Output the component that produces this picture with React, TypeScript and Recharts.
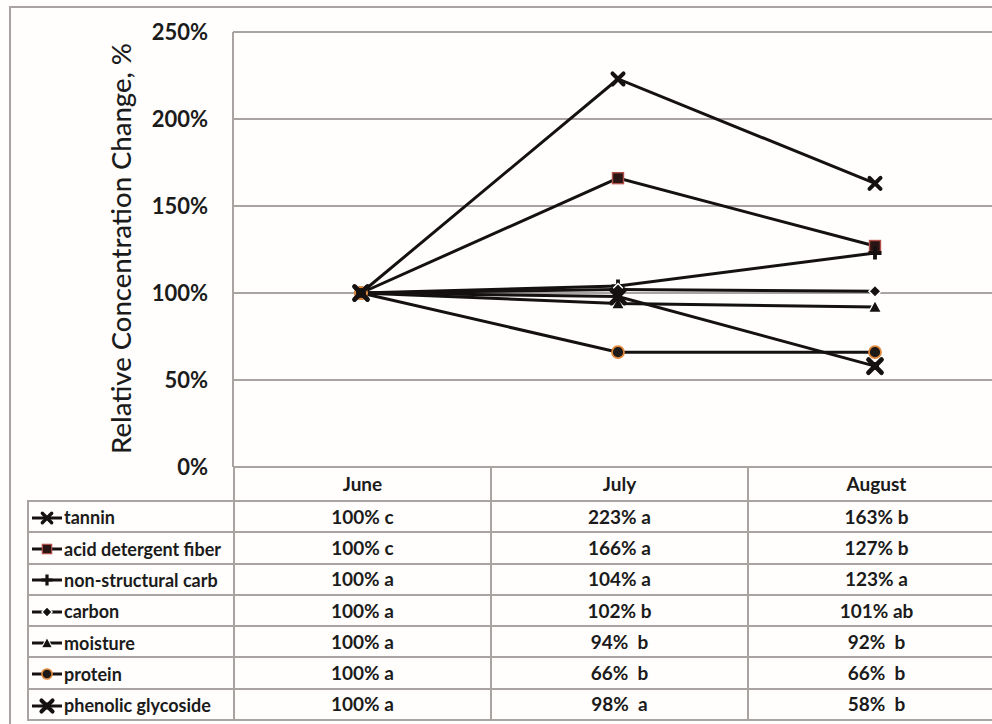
import React from 'react';
import { LineChart, Line, XAxis, YAxis, CartesianGrid } from 'recharts';

const months = ['June', 'July', 'August'];

const seriesNames = [
  'tannin',
  'acid detergent fiber',
  'non-structural carb',
  'carbon',
  'moisture',
  'protein',
  'phenolic glycoside',
];

const tannin = [100, 223, 163];
const acidDetergentFiber = [100, 166, 127];
const nonStructuralCarb = [100, 104, 123];
const carbon = [100, 102, 101];
const moisture = [100, 94, 92];
const protein = [100, 66, 66];
const phenolicGlycoside = [100, 98, 58];

// significance letters shown in the table
const tanninSig = ['c', 'a', 'b'];
const adfSig = ['c', 'a', 'b'];
const nscSig = ['a', 'a', 'a'];
const carbonSig = ['a', 'b', 'ab'];
const moistureSig = ['a', 'b', 'b'];
const proteinSig = ['a', 'b', 'b'];
const phenolicSig = ['a', 'a', 'b'];

const yTicks = [0, 50, 100, 150, 200, 250];

const markerKinds = ['x', 'square', 'plus', 'diamond', 'triangle', 'circle', 'star'];
const allValues = [tannin, acidDetergentFiber, nonStructuralCarb, carbon, moisture, protein, phenolicGlycoside];
const allSig = [tanninSig, adfSig, nscSig, carbonSig, moistureSig, proteinSig, phenolicSig];

const keys = ['tannin', 'adf', 'nsc', 'carbon', 'moisture', 'protein', 'phenolic'];

const data = months.map((m, i) => {
  const row: Record<string, string | number> = { month: m };
  keys.forEach((k, j) => {
    row[k] = allValues[j][i];
  });
  return row;
});

const INK = '#151111';
const GRID = '#a9a4a1';
const FONT = 'Lato, "Open Sans", sans-serif';

function Marker({ kind, cx, cy }: { kind: string; cx: number; cy: number }) {
  const t = `translate(${cx},${cy})`;
  switch (kind) {
    case 'x':
      return (
        <g transform={t}>
          <path d="M-5.5,-5.5L5.5,5.5M-5.5,5.5L5.5,-5.5" stroke={INK} strokeWidth={4} strokeLinecap="round" />
        </g>
      );
    case 'square':
      return (
        <g transform={t}>
          <rect x={-5.5} y={-5.5} width={11} height={11} fill="#2a1414" stroke="#b4504a" strokeWidth={1.4} />
        </g>
      );
    case 'plus':
      return (
        <g transform={t}>
          <path d="M-6.5,0L6.5,0M0,-6.5L0,6.5" stroke={INK} strokeWidth={3.8} />
        </g>
      );
    case 'diamond':
      return (
        <g transform={t}>
          <polygon points="0,-6 6,0 0,6 -6,0" fill={INK} stroke="#ffffff" strokeWidth={1.5} />
        </g>
      );
    case 'triangle':
      return (
        <g transform={t}>
          <polygon points="0,-6.5 6.5,5.5 -6.5,5.5" fill={INK} stroke="#ffffff" strokeWidth={1.2} />
        </g>
      );
    case 'circle':
      return (
        <g transform={t}>
          <circle r={6} fill="#1e1a18" stroke="#e0893c" strokeWidth={1.8} />
        </g>
      );
    default:
      return (
        <g transform={t}>
          <path d="M-6.5,-6.5L6.5,6.5M-6.5,6.5L6.5,-6.5" stroke={INK} strokeWidth={4.8} strokeLinecap="round" />
          <circle r={4} fill={INK} />
        </g>
      );
  }
}

function LegendIcon({ kind }: { kind: string }) {
  return (
    <svg width={32} height={16} style={{ verticalAlign: 'middle', marginRight: 1, overflow: 'visible' }}>
      <line x1={1} y1={8} x2={31} y2={8} stroke={INK} strokeWidth={3} />
      <g transform="translate(16,8) scale(0.85) translate(-16,-8)">
        <Marker kind={kind} cx={16} cy={8} />
      </g>
    </svg>
  );
}

function fmtCell(v: number, sig: string) {
  return v >= 100 ? `${v}% ${sig}` : `${v}%  ${sig}`;
}

const cellBorder = `2px solid ${GRID}`;

export default function App() {
  return (
    <div
      style={{
        position: 'relative',
        width: 992,
        height: 724,
        overflow: 'hidden',
        background: '#fffefc',
        fontFamily: FONT,
      }}
    >
      <style>{'body{margin:0}'}</style>
      <div
        style={{
          position: 'absolute',
          left: 9,
          top: 6,
          width: 1000,
          height: 730,
          border: `2px solid ${GRID}`,
          boxSizing: 'border-box',
        }}
      />
      <div style={{ position: 'absolute', left: 0, top: 0 }}>
        <LineChart
          width={1010}
          height={724}
          data={data}
          margin={{ top: 32, right: 7, bottom: 257, left: 0 }}
        >
          <CartesianGrid vertical={false} stroke={GRID} strokeWidth={2} />
          <XAxis dataKey="month" hide padding={{ left: 128, right: 128 }} />
          <YAxis
            width={233}
            domain={[0, 250]}
            ticks={yTicks}
            interval={0}
            tickFormatter={(v: number) => `${v}%`}
            tickLine={false}
            tickSize={6}
            tickMargin={19}
            axisLine={{ stroke: GRID, strokeWidth: 2 }}
            tick={{ fill: '#1b1b1b', fontSize: 22, fontWeight: 700, fontFamily: FONT }}
            label={{
              content: (p: any) => {
                const vb = p.viewBox || { x: 0, y: 32, width: 233, height: 435 };
                const x = vb.x + 120;
                const y = vb.y + vb.height / 2 - 1;
                return (
                  <text
                    x={x}
                    y={y}
                    transform={`rotate(-90 ${x} ${y})`}
                    textAnchor="middle"
                    dominantBaseline="central"
                    fill="#1b1b1b"
                    fontSize={27.5}
                    fontWeight={500}
                    fontFamily={FONT}
                  >
                    Relative Concentration Change, %
                  </text>
                );
              },
            }}
          />
          {keys.map((k, j) => (
            <Line
              key={k}
              dataKey={k}
              name={seriesNames[j]}
              stroke={INK}
              strokeWidth={3}
              isAnimationActive={false}
              dot={(p: any) => <Marker key={`${k}-${p.index}`} kind={markerKinds[j]} cx={p.cx} cy={p.cy} />}
              activeDot={false}
            />
          ))}
        </LineChart>
      </div>
      <table
        style={{
          position: 'absolute',
          left: 27,
          top: 466,
          width: 977,
          borderCollapse: 'collapse',
          tableLayout: 'fixed',
          fontFamily: FONT,
          fontWeight: 700,
          fontSize: 19,
          lineHeight: '20px',
          color: '#1b1b1b',
        }}
      >
        <colgroup>
          <col style={{ width: 206 }} />
          <col style={{ width: 257 }} />
          <col style={{ width: 257 }} />
          <col style={{ width: 257 }} />
        </colgroup>
        <tbody>
          <tr style={{ height: 34 }}>
            <td style={{ borderBottom: cellBorder, padding: 0 }} />
            {months.map((m) => (
              <td key={m} style={{ border: cellBorder, textAlign: 'center', padding: 0 }}>
                {m}
              </td>
            ))}
          </tr>
          {seriesNames.map((name, j) => (
            <tr key={name} style={{ height: 31.3 }}>
              <td style={{ border: cellBorder, padding: '0 0 0 2px', whiteSpace: 'nowrap', fontSize: 18 }}>
                <LegendIcon kind={markerKinds[j]} />
                <span style={{ verticalAlign: 'middle' }}>{name}</span>
              </td>
              {months.map((m, i) => (
                <td
                  key={m}
                  style={{ border: cellBorder, textAlign: 'center', padding: 0, whiteSpace: 'pre' }}
                >
                  {fmtCell(allValues[j][i], allSig[j][i])}
                </td>
              ))}
            </tr>
          ))}
        </tbody>
      </table>
    </div>
  );
}
